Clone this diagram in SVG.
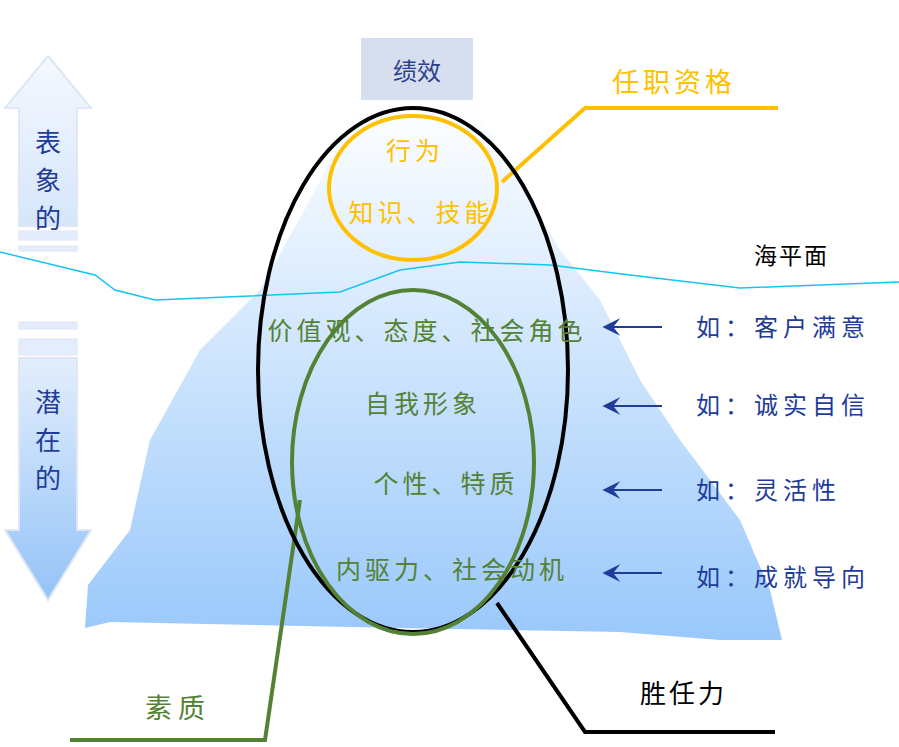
<svg xmlns="http://www.w3.org/2000/svg" width="899" height="747" viewBox="0 0 899 747">
<style>
.cn{font-family:"Noto Sans CJK SC","Liberation Serif",serif}
.g{fill:#548235;font-size:25px;letter-spacing:4px}
.b{fill:#1f3c99;font-size:24px;letter-spacing:5px}
.arr{stroke:#1f3c99;stroke-width:2;fill:none}
</style>
<defs>
<linearGradient id="ice" x1="0" y1="0" x2="0" y2="1"><stop offset="0" stop-color="#ffffff"/><stop offset="1" stop-color="#99c8fb"/></linearGradient>
<linearGradient id="up" x1="0" y1="0" x2="0" y2="1"><stop offset="0" stop-color="#f5f8fe"/><stop offset="1" stop-color="#d6e6fb"/></linearGradient>
<linearGradient id="dn" x1="0" y1="0" x2="0" y2="1"><stop offset="0" stop-color="#e3eefc"/><stop offset="1" stop-color="#94c3f8"/></linearGradient>
<marker id="ah" viewBox="0 0 10 10" refX="8" refY="5" markerWidth="18" markerHeight="18" markerUnits="userSpaceOnUse" orient="auto"><path d="M0,0 L10,5 L0,10 L4,5 Z" fill="#1f3c99"/></marker>
</defs>
<g id="iceberg"><path d="M362,100 L472,100 L500,150 L560,250 L600,300 L640,380 L680,440 L740,520 L770,590 L782,640 L720,640 L620,632 L400,628 L110,622 L85,628 L88,585 L130,530 L150,440 L200,350 L260,290 L310,200 Z" fill="url(#ice)"/></g>
<g id="perf"><rect x="361" y="38" width="112" height="62" fill="#d6dff0"/><text x="417" y="80" class="cn" font-size="24" fill="#2f3f8f" text-anchor="middle">绩效</text></g>
<g id="arrows-left">
<path d="M48,56 L91,108 L77,108 L77,226 L19,226 L19,108 L5,108 Z" fill="url(#up)" stroke="#dfe6f6" stroke-width="2"/>
<rect x="19" y="231" width="58" height="9" fill="#e4edfb" stroke="#dfe6f6"/>
<rect x="19" y="246" width="58" height="5" fill="#e4edfb" stroke="#dfe6f6"/>
<rect x="19" y="322" width="58" height="7" fill="#e4edfb" stroke="#dfe6f6"/>
<rect x="19" y="339" width="58" height="16" fill="#e4edfb" stroke="#dfe6f6"/>
<path d="M19,358 L77,358 L77,530 L91,530 L48,600 L5,530 L19,530 Z" fill="url(#dn)" stroke="#dfe6f6" stroke-width="2"/>
<text class="cn" font-size="26" fill="#1f3c99" text-anchor="middle"><tspan x="48" y="152">表</tspan><tspan x="48" y="190">象</tspan><tspan x="48" y="228">的</tspan><tspan x="48" y="412">潜</tspan><tspan x="48" y="450">在</tspan><tspan x="48" y="488">的</tspan></text>
</g>
<g id="connectors">
<polyline points="0,252 95,275 115,290 155,300 340,292 400,270 460,262 550,265 630,275 740,288 820,285 899,282" fill="none" stroke="#14c4f4" stroke-width="1.5"/>
<polyline points="502,182 585,108 778,108" fill="none" stroke="#ffc000" stroke-width="4"/>
<polyline points="497,603 585,732 775,732" fill="none" stroke="#000" stroke-width="4"/>
<polyline points="300,500 265,740 70,740" fill="none" stroke="#548235" stroke-width="4"/>
<line x1="662" y1="327" x2="606" y2="327" class="arr" marker-end="url(#ah)"/>
<line x1="662" y1="406" x2="606" y2="406" class="arr" marker-end="url(#ah)"/>
<line x1="662" y1="490" x2="606" y2="490" class="arr" marker-end="url(#ah)"/>
<line x1="662" y1="573" x2="606" y2="573" class="arr" marker-end="url(#ah)"/>
</g>
<g id="competency"><ellipse cx="413" cy="370" rx="155" ry="262" fill="none" stroke="#000" stroke-width="4"/><text x="640" y="703" class="cn" font-size="26" fill="#000" letter-spacing="3">胜任力</text></g>
<g id="qualification"><ellipse cx="413" cy="188" rx="84" ry="72" fill="none" stroke="#ffc000" stroke-width="4"/>
<text class="cn" font-size="25" fill="#ffc000" text-anchor="middle" letter-spacing="4"><tspan x="415" y="160">行为</tspan><tspan x="421" y="222">知识、技能</tspan></text>
<text x="612" y="92" class="cn" font-size="27" fill="#ffc000" letter-spacing="4">任职资格</text></g>
<g id="quality"><ellipse cx="413" cy="462" rx="121" ry="172" fill="none" stroke="#548235" stroke-width="4"/>
<text x="145" y="718" class="cn" font-size="27" fill="#548235" letter-spacing="6">素质</text></g>
<g id="labels">
<text x="427" y="340" class="cn g" text-anchor="middle">价值观、态度、社会角色</text>
<text x="423" y="413" class="cn g" text-anchor="middle">自我形象</text>
<text x="446" y="493" class="cn g" text-anchor="middle">个性、特质</text>
<text x="452" y="579" class="cn g" text-anchor="middle">内驱力、社会动机</text>
<text x="754" y="264" class="cn" font-size="23" fill="#000" letter-spacing="2">海平面</text>
<text x="696" y="336" class="cn b">如：客户满意</text>
<text x="696" y="414" class="cn b">如：诚实自信</text>
<text x="696" y="499" class="cn b">如：灵活性</text>
<text x="696" y="586" class="cn b">如：成就导向</text>
</g>
</svg>
